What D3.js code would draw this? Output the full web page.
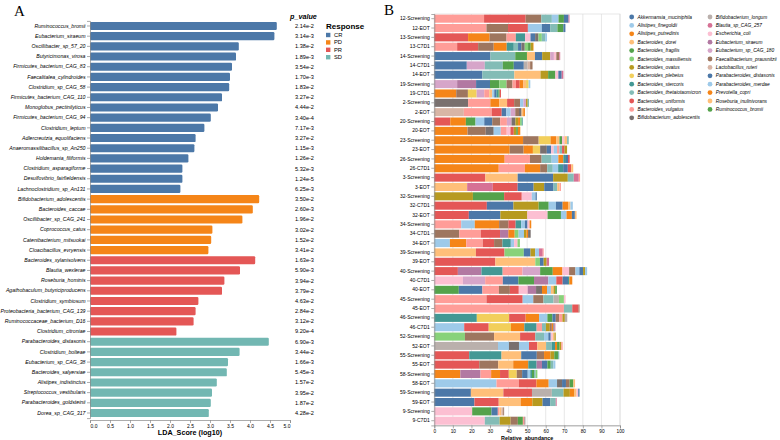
<!DOCTYPE html>
<html><head><meta charset="utf-8">
<script src="https://cdn.jsdelivr.net/npm/d3@7"></script>
<style>body{margin:0;background:#fff} svg{display:block}</style>
</head><body>
<svg id="c" width="780" height="440"></svg>
<script>
// ---------- Panel A data ----------
const ldaFeatures = [
 "Ruminococcus_bromii","Eubacterium_siraeum","Oscillibacter_sp_57_20","Butyricimonas_virosa","Firmicutes_bacterium_CAG_83",
 "Faecalitalea_cylindroides","Clostridium_sp_CAG_58","Firmicutes_bacterium_CAG_110","Monoglobus_pectinilyticus","Firmicutes_bacterium_CAG_94",
 "Clostridium_leptum","Adlercreutzia_equolifaciens","Anaeromassilibacillus_sp_An250","Holdemania_filiformis","Clostridium_asparagiforme",
 "Desulfovibrio_fairfieldensis","Lachnoclostridium_sp_An131",
 "Bifidobacterium_adolescentis","Bacteroides_caccae","Oscillibacter_sp_CAG_241","Coprococcus_catus","Catenibacterium_mitsuokai","Cloacibacillus_evryensis",
 "Bacteroides_xylanisolvens","Blautia_wexlerae","Roseburia_hominis","Agathobaculum_butyriciproducens","Clostridium_symbiosum",
 "Proteobacteria_bacterium_CAG_139","Ruminococcaceae_bacterium_D16","Clostridium_citroniae",
 "Parabacteroides_distasonis","Clostridium_bolteae","Eubacterium_sp_CAG_38","Bacteroides_salyersiae","Alistipes_indistinctus",
 "Streptococcus_vestibularis","Parabacteroides_goldsteinii","Dorea_sp_CAG_317"];
const ldaGroups = [
 "CR","CR","CR","CR","CR","CR","CR","CR","CR","CR","CR","CR","CR","CR","CR","CR","CR",
 "PD","PD","PD","PD","PD","PD",
 "PR","PR","PR","PR","PR","PR","PR","PR",
 "SD","SD","SD","SD","SD","SD","SD","SD"];
const ldaScores = [
 4.67,4.61,3.72,3.65,3.55,3.50,3.48,3.30,3.20,3.02,2.86,2.64,2.61,2.46,2.31,2.31,2.26,
 4.23,4.07,3.81,3.06,3.03,2.96,
 4.13,3.75,3.36,3.30,2.71,2.64,2.59,2.16,
 4.47,3.74,3.45,3.42,3.17,3.05,3.02,2.97];
const pValues = [
 "2.14e-2","3.14e-3","1.38e-2","1.89e-3","3.54e-2","1.70e-3","1.83e-2","3.27e-2","4.44e-2","3.40e-4","7.17e-3","3.27e-2","1.15e-3","1.26e-2","5.32e-3","1.24e-5","6.25e-3",
 "3.50e-2","2.60e-3","1.96e-2","3.02e-2","1.52e-2","3.41e-2",
 "1.63e-3","5.90e-3","3.94e-2","3.79e-2","4.63e-2","2.84e-2","3.12e-2","9.20e-4",
 "6.90e-3","3.44e-2","1.66e-3","5.45e-3","1.57e-2","3.95e-2","1.87e-2","4.28e-2"];
const responseLevels = ["CR","PD","PR","SD"];
const responseColors = ["#4c78a8","#f58518","#e45756","#72b7b2"];
const ldaTicks = [0,0.5,1,1.5,2,2.5,3,3.5,4,4.5,5];

// ---------- Panel B data ----------
const species = [
 "Akkermansia_muciniphila","Alistipes_finegoldii","Alistipes_putredinis","Bacteroides_dorei","Bacteroides_fragilis",
 "Bacteroides_massiliensis","Bacteroides_ovatus","Bacteroides_plebeius","Bacteroides_stercoris","Bacteroides_thetaiotaomicron",
 "Bacteroides_uniformis","Bacteroides_vulgatus","Bifidobacterium_adolescentis","Bifidobacterium_longum","Blautia_sp_CAG_257",
 "Escherichia_coli","Eubacterium_siraeum","Eubacterium_sp_CAG_180","Faecalibacterium_prausnitzii","Lactobacillus_ruteri",
 "Parabacteroides_distasonis","Parabacteroides_merdae","Prevotella_copri","Roseburia_inulinivorans","Ruminococcus_bromii"];
const speciesPalette = ["#4c78a8","#9ecae9","#f58518","#ffbf79","#54a24b","#88d27a","#b79a20","#f2cf5b","#439894","#83bcb6",
 "#e45756","#ff9d98","#79706e","#bab0ac","#d67195","#fcbfd2","#b279a2","#d6a5c9","#9e765f","#d8b5a5"];
const samples = [
 "12-Screening","12-EOT","13-Screening","13-C7D1","14-Screening","14-C7D1","14-EOT","19-Screening","19-C7D1",
 "2-Screening","2-EOT","20-Screening","20-EOT","23-Screening","23-EOT","26-Screening","26-C7D1","3-Screening","3-EOT",
 "32-Screening","32-C7D1","32-EOT","34-Screening","34-C7D1","34-EOT","39-Screening","39-EOT","40-Screening","40-C7D1","40-EOT",
 "45-Screening","45-EOT","46-Screening","46-C7D1","52-Screening","52-EOT","55-Screening","55-EOT","58-Screening","58-EOT",
 "59-Screening","59-EOT","9-Screening","9-C7D1"];
// per sample: [species index, relative abundance] in stacking order
const sampleSegments = [
 [[11,26.8],[10,22.4],[18,8.4],[9,5.7],[21,3.6],[24,2.9],[0,2.5],[14,0.5]],
 [[11,28.1],[18,11.6],[10,10.7],[21,7.5],[0,4.5],[9,3.9],[24,3.2],[20,1.1]],
 [[10,18.2],[22,11.6],[18,9.1],[11,5.0],[8,5.0],[15,2.9],[0,2.5],[12,1.8],[5,1.8],[9,1.8],[21,1.0]],
 [[11,12.3],[10,11.3],[18,8.4],[22,7.0],[8,3.8],[9,2.3],[0,1.8],[12,1.8],[5,1.8],[24,1.4],[6,1.3],[3,0.5]],
 [[0,30.2],[9,13.4],[24,6.3],[3,4.3],[20,3.9],[6,4.3],[17,2.0],[15,1.3],[18,1.6],[14,0.5]],
 [[0,17.5],[17,9.7],[9,9.7],[24,5.9],[20,5.4],[13,2.0],[19,1.4],[18,1.3]],
 [[0,25.9],[9,17.2],[3,14.1],[6,4.1],[24,3.9],[15,1.6],[20,1.8],[14,0.9]],
 [[17,12.3],[16,10.2],[0,7.5],[24,5.0],[5,3.9],[18,3.2],[11,1.8],[10,2.1],[22,2.0],[3,1.4],[7,1.4],[21,0.9]],
 [[22,11.8],[18,6.3],[7,4.7],[17,4.1],[11,2.7],[3,1.6],[21,1.1],[0,1.1],[8,1.1],[24,0.7],[10,0.7]],
 [[12,18.2],[11,12.0],[22,4.7],[3,4.3],[10,3.8],[18,3.2],[21,1.8],[17,1.4],[6,0.9],[9,0.7]],
 [[19,15.9],[11,15.0],[10,5.4],[0,2.5],[21,2.3],[17,2.5],[18,2.0],[12,1.4],[3,0.9],[22,0.9]],
 [[10,8.6],[22,8.4],[24,5.2],[21,4.7],[0,4.3],[18,4.3],[11,3.6],[17,2.5],[12,2.1],[6,1.4],[2,1.1],[5,0.9],[8,0.5]],
 [[22,17.9],[18,9.8],[12,4.3],[21,3.8],[11,3.2],[15,2.0],[10,1.8],[6,1.3],[24,0.9],[2,1.3]],
 [[22,47.8],[18,8.4],[7,6.4],[2,3.0],[3,1.8],[24,1.4],[15,1.3],[23,1.4],[9,0.9]],
 [[22,40.6],[18,7.5],[2,5.0],[7,3.9],[12,3.6],[0,2.3],[15,1.4],[21,1.8],[11,1.3],[9,1.4],[10,1.3],[6,1.4]],
 [[22,37.9],[11,13.6],[18,6.3],[9,5.4],[21,3.6],[2,2.7],[8,1.4],[0,1.1],[10,0.9]],
 [[22,34.7],[11,14.1],[2,8.2],[18,3.8],[9,3.0],[21,2.9],[8,2.7],[0,2.5],[10,1.8],[3,1.1]],
 [[10,27.5],[3,17.4],[0,19.1],[6,7.9],[9,3.2],[14,2.7],[11,0.7]],
 [[3,17.7],[14,13.8],[10,13.4],[0,8.6],[6,5.7],[20,5.0],[9,2.0],[23,1.3],[11,0.7]],
 [[6,20.8],[24,16.8],[10,9.5],[15,5.4],[21,2.0],[0,0.7]],
 [[10,28.3],[0,14.3],[6,13.6],[24,5.4],[21,3.9],[20,3.6],[22,2.9],[3,1.3],[1,1.3]],
 [[10,18.6],[0,17.0],[6,14.5],[15,10.9],[24,7.2],[21,3.0],[22,2.9],[20,1.6],[3,0.9]],
 [[11,14.5],[21,7.3],[22,13.1],[18,5.0],[10,3.9],[8,3.0],[1,2.0],[0,1.4],[15,1.1],[2,0.9]],
 [[18,13.4],[11,11.6],[10,10.4],[16,4.5],[22,3.4],[5,2.1],[21,2.9],[6,1.3],[2,0.9],[12,1.4]],
 [[21,8.4],[22,8.8],[11,8.9],[10,6.1],[18,4.5],[8,4.5],[1,1.8],[15,1.8],[5,1.3]],
 [[3,22.4],[10,15.4],[5,10.4],[0,3.6],[6,2.5],[21,2.1],[14,2.0],[11,0.5]],
 [[10,32.9],[3,21.5],[5,2.5],[0,2.0],[6,1.6],[14,1.3]],
 [[10,12.7],[16,12.7],[8,11.4],[11,10.7],[17,9.5],[24,6.8],[22,5.2],[15,3.6],[18,3.4],[21,2.1],[0,2.0],[6,1.1],[1,1.1]],
 [[15,15.4],[17,12.0],[11,9.5],[0,8.4],[24,8.4],[16,7.7],[21,4.3],[10,3.4],[20,2.9],[8,0.7],[22,1.6]],
 [[24,13.2],[0,12.7],[11,8.9],[18,5.9],[10,4.8],[15,4.8],[16,4.5],[12,3.2],[22,2.7],[21,2.1],[3,1.4],[6,0.9],[4,0.9]],
 [[11,28.1],[10,19.5],[21,5.7],[18,5.5],[9,5.4],[13,2.9],[5,2.7],[15,0.9]],
 [[11,69.8],[9,4.5],[10,3.4],[18,0.5]],
 [[8,22.9],[7,17.4],[10,8.9],[22,7.2],[21,4.5],[24,2.7],[0,1.8],[18,1.8],[11,1.8],[6,1.3],[13,1.3]],
 [[21,16.1],[10,13.2],[7,12.0],[22,7.2],[8,6.6],[11,2.9],[9,2.1],[6,2.1],[18,1.1],[2,0.9],[0,0.5],[14,0.5]],
 [[5,16.5],[18,15.7],[3,14.0],[10,8.2],[9,4.7],[21,2.3],[0,1.3],[15,1.1],[23,0.9],[6,0.7]],
 [[13,34.3],[21,5.9],[12,5.4],[1,5.4],[10,4.5],[3,4.7],[9,3.0],[8,1.8],[22,1.1],[24,1.4],[6,0.9],[11,0.7]],
 [[10,18.8],[8,17.4],[3,10.6],[0,8.4],[18,3.9],[22,3.4],[6,2.1],[24,2.0],[9,0.7]],
 [[10,24.2],[18,10.2],[3,8.1],[22,8.1],[8,4.5],[16,2.9],[0,2.9],[24,1.8],[9,1.4],[21,1.1]],
 [[22,14.0],[16,10.9],[11,5.7],[2,4.8],[10,4.7],[7,4.3],[18,2.9],[0,3.0],[21,1.4],[8,0.9],[24,1.1],[9,0.9],[5,0.9]],
 [[21,33.5],[11,12.0],[10,9.5],[22,6.6],[1,4.5],[12,2.7],[0,2.1],[18,2.0],[24,2.0],[3,0.9]],
 [[0,19.7],[3,17.5],[10,15.4],[13,10.7],[9,6.3],[6,3.4],[22,2.5],[23,1.1],[15,0.9],[20,0.7]],
 [[0,21.6],[10,13.1],[3,11.8],[22,6.3],[6,5.5],[20,4.1],[9,3.0],[14,0.5]],
 [[15,20.4],[24,10.4],[0,3.4],[11,0.9],[3,1.1],[19,0.9],[18,0.5]],
 [[15,27.2],[9,8.0],[6,5.9],[18,3.9],[24,2.7],[11,0.9],[12,0.4]]];
const abundanceTicks = [0,10,20,30,40,50,60,70,80,90,100];

// ---------- drawing ----------
const FONT = "'Liberation Sans', Arial, Helvetica, sans-serif";
const svg = d3.select("#c").style("font-family", FONT);

function styleAxis(g) {
  g.selectAll(".domain").attr("stroke", "#888").attr("stroke-width", 0.7);
  g.selectAll(".tick line").attr("stroke", "#888").attr("stroke-width", 0.7);
  g.selectAll(".tick text").attr("fill", "#000").style("font-family", FONT);
}

// Panel labels
svg.append("text").attr("x", 14).attr("y", 16).text("A")
  .style("font-family", "'Liberation Serif','Times New Roman',serif").style("font-size", "15px");
svg.append("text").attr("x", 384).attr("y", 15).text("B")
  .style("font-family", "'Liberation Serif','Times New Roman',serif").style("font-size", "15px");

// ---- Panel A ----
const xA = d3.scaleLinear().domain([0, 5]).range([90, 290]);
const yA = d3.scaleBand().domain(ldaFeatures).range([20.9, 418.1]).paddingInner(0.2).paddingOuter(0.1);
const colorA = d3.scaleOrdinal().domain(responseLevels).range(responseColors);
const gA = svg.append("g");

gA.selectAll("rect.bar").data(ldaFeatures).join("rect").attr("class", "bar")
  .attr("x", xA(0)).attr("y", d => yA(d))
  .attr("width", (d, i) => xA(ldaScores[i]) - xA(0))
  .attr("height", yA.bandwidth())
  .attr("rx", 1.2)
  .attr("fill", (d, i) => colorA(ldaGroups[i]));

const axA = gA.append("g").attr("transform", "translate(90,0)")
  .call(d3.axisLeft(yA).tickSize(3).tickPadding(1.5));
styleAxis(axA);
axA.selectAll(".tick text").style("font-size", "5.2px").style("font-style", "italic");

const axAB = gA.append("g").attr("transform", "translate(0,420)")
  .call(d3.axisBottom(xA).tickValues(ldaTicks).tickFormat(d3.format(".1f")).tickSize(3).tickPadding(1.5));
styleAxis(axAB);
axAB.selectAll(".tick text").style("font-size", "5px")
  .attr("text-anchor", (d, i) => i === 0 ? "start" : (i === ldaTicks.length - 1 ? "end" : "middle"));
gA.append("text").attr("x", 190).attr("y", 435).attr("text-anchor", "middle")
  .style("font-size", "7.2px").style("font-weight", "bold").text("LDA_Score (log10)");

// p-values
gA.append("text").attr("x", 290).attr("y", 18.5).text("p_value")
  .style("font-size", "7.2px").style("font-weight", "bold").style("font-style", "italic");
gA.selectAll("text.pv").data(pValues).join("text").attr("class", "pv")
  .attr("x", 295).attr("y", (d, i) => yA(ldaFeatures[i]) + yA.bandwidth() / 2)
  .attr("dy", "0.35em").style("font-size", "5.6px").attr("fill", "#000").text(d => d);

// legend A
const legA = gA.append("g");
legA.append("text").attr("x", 326).attr("y", 29).text("Response")
  .style("font-size", "8px").style("font-weight", "bold");
const legAItems = legA.selectAll("g.it").data(responseLevels).join("g").attr("class", "it")
  .attr("transform", (d, i) => `translate(326,${35 + i * 7.4})`);
legAItems.append("rect").attr("x", 0).attr("y", -2.2).attr("width", 4.4).attr("height", 4.4)
  .attr("fill", d => colorA(d));
legAItems.append("text").attr("x", 8).attr("dy", "0.35em").style("font-size", "5.8px")
  .attr("fill", "#000").text(d => d);

// ---- Panel B ----
const xB = d3.scaleLinear().domain([0, 100]).range([434.3, 620]);
const yB = d3.scaleBand().domain(samples).range([14, 425.4]).paddingInner(0.14).paddingOuter(0.07);
const colorB = d3.scaleOrdinal().domain(species).range(speciesPalette);
const gB = svg.append("g");

// grid
gB.selectAll("line.grid").data(abundanceTicks).join("line").attr("class", "grid")
  .attr("x1", d => xB(d)).attr("x2", d => xB(d)).attr("y1", 14).attr("y2", 425.4)
  .attr("stroke", "#ddd").attr("stroke-width", 0.7);
gB.append("rect").attr("x", xB(0)).attr("y", 14).attr("width", xB(100) - xB(0)).attr("height", 411.4)
  .attr("fill", "none").attr("stroke", "#ddd").attr("stroke-width", 0.7);

const rowsB = gB.selectAll("g.row").data(samples).join("g").attr("class", "row")
  .attr("transform", d => `translate(0,${yB(d)})`);
rowsB.each(function (s, i) {
  let acc = 0;
  const segs = sampleSegments[i].map(([k, v]) => { const o = { sp: species[k], x0: acc, x1: acc + v }; acc += v; return o; });
  d3.select(this).selectAll("rect").data(segs).join("rect")
    .attr("x", d => xB(d.x0)).attr("width", d => xB(d.x1) - xB(d.x0))
    .attr("y", 0).attr("height", yB.bandwidth())
    .attr("fill", d => colorB(d.sp));
});

const axBL = gB.append("g").attr("transform", `translate(${xB(0)},0)`)
  .call(d3.axisLeft(yB).tickSize(3).tickPadding(1.5));
styleAxis(axBL);
axBL.selectAll(".tick text").style("font-size", "5px");

const axBB = gB.append("g").attr("transform", "translate(0,425.4)")
  .call(d3.axisBottom(xB).tickValues(abundanceTicks).tickSize(3).tickPadding(1.5));
styleAxis(axBB);
axBB.selectAll(".tick text").style("font-size", "4.8px");
gB.append("text").attr("x", (xB(0) + xB(100)) / 2).attr("y", 440).attr("text-anchor", "middle")
  .style("font-size", "5.4px").style("font-weight", "bold").text("Relative_abundance");

// legend B
const perCol = 13;
const legB = gB.selectAll("g.lb").data(species).join("g").attr("class", "lb")
  .attr("transform", (d, i) => `translate(${i < perCol ? 631.7 : 710},${17 + (i % perCol) * 8.4})`);
legB.append("circle").attr("r", 2.4).attr("fill", d => colorB(d));
legB.append("text").attr("x", 5.8).attr("dy", "0.35em").style("font-size", "4.8px")
  .style("font-style", "italic").attr("fill", "#000").text(d => d);
</script>
</body></html>
